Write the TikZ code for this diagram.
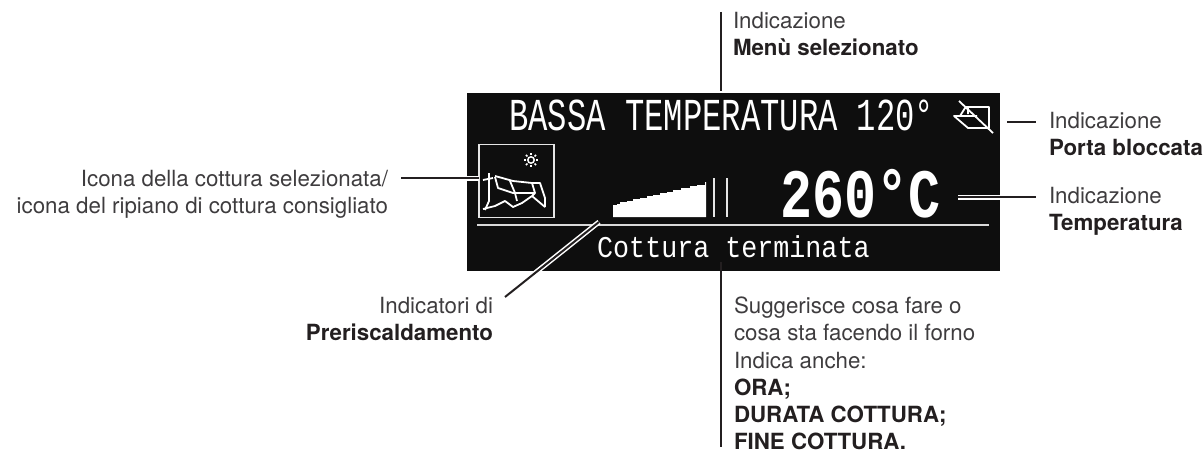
\documentclass[tikz,border=0pt]{standalone}
\usepackage{fontspec}
\setmainfont{TeX Gyre Heros}
\newfontfamily\lcd{Liberation Mono}
\definecolor{labelk}{RGB}{35,31,32}
\definecolor{labelg}{RGB}{62,60,62}
\definecolor{panel}{RGB}{14,14,14}
\newcommand\bd[1]{{\bfseries\color{labelk}#1}}
\tikzset{
 lab/.style={font=\fontsize{22.3}{27.2}\selectfont,text=labelg,inner sep=0pt,outer sep=0pt},
 lcdtext/.style={text=white,inner sep=0pt,anchor=base west,transform shape},
 lead/.style={draw=labelk,line width=2pt},
 casing/.style={draw=white,line width=5pt},
 glyph/.style={draw=white,line width=1.8pt,line join=round}
}
\begin{document}
\begin{tikzpicture}[x=1pt,y=-1pt]
\useasboundingbox (0,0) rectangle (1204,452);
\node[draw=none,fill=panel,minimum width=533pt,minimum height=178pt,inner sep=0pt,anchor=north west] (disp) at (467,93) {};
% display text
\node[lcdtext,font=\lcd\fontsize{32.2}{32}\selectfont,yscale=1.42] (menu) at (509,130) {BASSA TEMPERATURA 120°};
\node[lcdtext,font=\lcd\bfseries\fontsize{53.3}{53}\selectfont,yscale=1.3] (temp) at (780,217) {260°C};
\node[lcdtext,font=\lcd\fontsize{26.7}{26}\selectfont,yscale=1.13] (msg) at (597,257) {Cottura terminata};
% separator
\draw[draw=white!85!black,line width=2.4pt] (477,225) -- (989,225);
% icon box
\node[draw=white!90!black,line width=1.7pt,minimum width=75pt,minimum height=73pt,inner sep=0pt,anchor=north west] (icon) at (478,143.5) {};
% sun
\draw[white,line width=1.5pt] (531,160) circle (3.2);
\foreach \a in {0,45,...,315} \draw[white,line width=1.5pt] (531,160) ++(\a:5) -- ++(\a:2.2);
\draw[glyph] (489,173) -- (489,201) -- (485,210);
\draw[glyph] (483,209) -- (495,206) -- (505,201) -- (513,207) -- (522,203) -- (532,196) -- (545,207);
\draw[glyph] (483,180) -- (493,178);
\draw[glyph] (495,176) -- (513,181) -- (532,183) -- (540,183) -- (545,198) -- (545,207);
\draw[glyph] (495,177) -- (498,188) -- (513,193) -- (535,193);
\draw[glyph] (510,181) -- (515,193) -- (517,201);
\draw[glyph] (532,183) -- (535,193) -- (532,196);
% preheat bars
\fill[white] (613,217) |- (617,205) |- (620,204) |- (627,202) |- (633,201) |- (640,199) |- (647,198) |- (653,196) |- (660,195) |- (667,193) |- (673,192) |- (681,190) |- (690,188) |- (697,186) |- (705,185) |- (706,182) -- (706,217) -- cycle;
\draw[white!90!black,line width=1.8pt] (714,178) -- (714,217) (727,178) -- (727,217);
% door icon
\draw[glyph] (959,101) -- (993,133) (965,107) -- (989,107) -- (989,128) -- (968,128) -- (954,116) -- (977,116) (965,108) -- (960,116) (968,107) -- (968,114);
% labels
\node[lab,align=left,anchor=north west] (menulab) at (733,12.5) {Indicazione\\\bd{Menù selezionato}};
\node[lab,align=left,anchor=north west] (portalab) at (1049,112) {Indicazione\\\bd{Porta bloccata}};
\node[lab,align=left,anchor=north west] (templab) at (1049,187) {Indicazione\\\bd{Temperatura}};
\node[lab,align=right,anchor=north east] (iconlab) at (388,170) {Icona della cottura selezionata/\\icona del ripiano di cottura consigliato};
\node[lab,align=right,anchor=north east] (prelab) at (493,297) {Indicatori di\\\bd{Preriscaldamento}};
\node[lab,align=left,anchor=north west] (sugg) at (734,297) {Suggerisce cosa fare o\\cosa sta facendo il forno\\Indica anche:\\\bd{ORA;}\\\bd{DURATA COTTURA;}\\\bd{FINE COTTURA.}};
% connector ends
\coordinate (a1) at (721,12); \coordinate (a2) at (721,91);
\coordinate (b1) at (1007,122); \coordinate (b2) at (1036,122);
\coordinate (c1) at (958,197); \coordinate (c2) at (1036,197);
\coordinate (d1) at (401,178); \coordinate (d2) at (479,178);
\coordinate (e1) at (505,297); \coordinate (e2) at (599,222);
\coordinate (f1) at (721,262); \coordinate (f2) at (721,447);
\draw[casing] (467,178) -- (d2);
\draw[casing] (c1) -- (1000,197);
\draw[casing] (530,277) -- (e2);
\draw[lead] (a1) -- (a2);
\draw[lead] (b1) -- (b2);
\draw[lead] (c1) -- (c2);
\draw[lead] (d1) -- (d2);
\draw[lead] (e1) -- (e2);
\draw[lead] (f1) -- (f2);
\end{tikzpicture}
\end{document}
